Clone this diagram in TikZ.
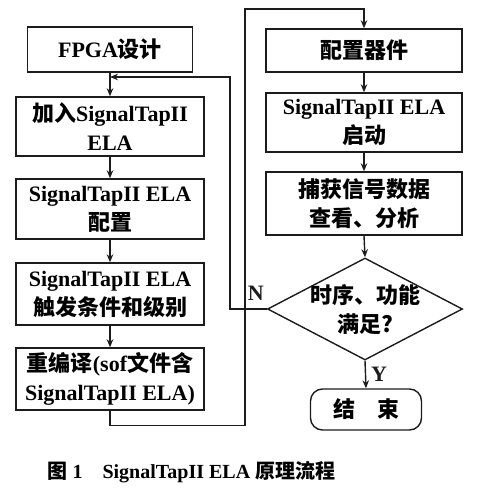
\documentclass[tikz,border=0pt]{standalone}
\usepackage{fontspec}
\setmainfont{Liberation Serif}
\newfontfamily\cjk{Noto Sans CJK SC}[Scale=1.0]
\newcommand{\zh}[1]{{\cjk #1}}
\usetikzlibrary{shapes.geometric,arrows.meta}
\begin{document}
\begin{tikzpicture}[x=1pt,y=-1pt,font=\bfseries\fontsize{22}{29}\selectfont,>={Stealth[length=8pt,width=6.5pt]}]
  \definecolor{ink}{HTML}{1C1C1C}
  \tikzset{box/.style={draw=ink,line width=1.4pt,minimum width=188pt,minimum height=60pt,inner sep=1pt,align=center}}
  \tikzset{decision/.style={draw=ink,line width=1.4pt,diamond,minimum width=195pt,minimum height=102pt,inner sep=0pt}}
  \tikzset{flow/.style={->,line width=1.4pt,ink}}
  \useasboundingbox (0,0) rectangle (485,500);
  % left column
  \node[box,minimum width=165pt,minimum height=45pt] (fpga) at (110,49.5) {FPGA\zh{设计}};
  \node[box,minimum height=59pt] (addela) at (110,126.5) {\zh{加入}SignalTapII\\ELA};
  \node[box] (setela) at (110,209) {SignalTapII ELA\\\zh{配置}};
  \node[box,minimum height=62pt] (trigger) at (110,294) {SignalTapII ELA\\\zh{触发条件和级别}};
  \node[box,minimum height=62pt] (recomp) at (110,379) {\zh{重编译}(sof\zh{文件含}\\SignalTapII ELA)};
  % right column
  \node[box,minimum width=196pt,minimum height=43pt] (device) at (364,50.5) {\zh{配置器件}};
  \node[box,minimum width=196pt,minimum height=59pt] (start) at (364,122.5) {SignalTapII ELA\\\zh{启动}};
  \node[box,minimum width=196pt,minimum height=63pt] (capture) at (364,203.5) {\zh{捕获信号数据}\\\zh{查看、分析}};
  \node[decision,label={[align=center]center:{\zh{时序、功能}\\\zh{满足?}}}] (check) at (365,309) {};
  \node[draw=ink,line width=1.4pt,rounded corners=12pt,minimum width=111pt,minimum height=41pt] (stop) at (366,409.5) {\zh{结\hspace{1em}束}};
  \coordinate (loopin) at (110,77);
  % connectors
  \draw[flow] (fpga.south) -- (addela.north);
  \draw[flow] (addela.south) -- (setela.north);
  \draw[flow] (setela.south) -- (trigger.north);
  \draw[flow] (trigger.south) -- (recomp.north);
  \draw[flow] (recomp.south) -- ++(0,15) -| (245,9) -| (device.north);
  \draw[flow] (device.south) -- (start.north);
  \draw[flow] (start.south) -- (capture.north);
  \draw[flow] (capture.south) -- (check.north);
  \draw[flow] (check.south) -- node[right,inner sep=5pt] {Y} (stop.north);
  \draw[flow] (check.west) -- node[above,pos=0.3,inner sep=8pt] {N} (230,309) |- (loopin);
  % caption
  \node[anchor=west,font=\bfseries\fontsize{20}{24}\selectfont] (caption) at (44,472) {\zh{图} 1\quad SignalTapII ELA \zh{原理流程}};
\end{tikzpicture}
\end{document}
